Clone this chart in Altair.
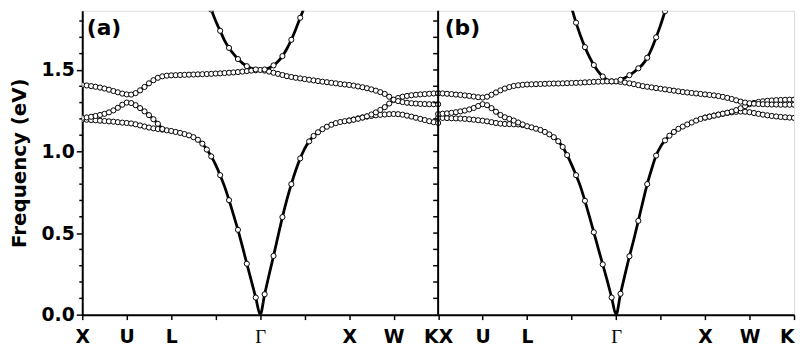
import altair as alt
import pandas as pd

STEP = 0.1

# ---------------- panel (a) : band values read at x = start, start+0.1, ...
a_band1 = [1.196, 1.195, 1.193, 1.191, 1.189, 1.187, 1.185, 1.183, 1.180, 1.177,
           1.175, 1.172, 1.167, 1.160, 1.153, 1.147, 1.142, 1.138, 1.134, 1.130,
           1.126, 1.120, 1.114, 1.107, 1.099, 1.088, 1.072, 1.048, 1.012, 0.970,
           0.918, 0.855, 0.785, 0.702, 0.612, 0.520, 0.418, 0.312, 0.208, 0.105,
           0.000, 0.125, 0.245, 0.360, 0.480, 0.598, 0.705, 0.800, 0.885, 0.958,
           1.018, 1.062, 1.095, 1.118, 1.137, 1.152, 1.164, 1.174, 1.181, 1.186,
           1.190, 1.196, 1.203, 1.209, 1.214, 1.218, 1.222, 1.225, 1.227, 1.229,
           1.230, 1.229, 1.226, 1.220, 1.214, 1.207, 1.200, 1.193, 1.186, 1.180,
           1.175]
a_band2_xul = [1.206, 1.209, 1.213, 1.218, 1.224, 1.231, 1.240, 1.252, 1.268, 1.287,
               1.300, 1.297, 1.284, 1.266, 1.246, 1.223, 1.198, 1.170, 1.138]
a_band2_xwk = [1.190, 1.195, 1.201, 1.208, 1.216, 1.227, 1.240, 1.255, 1.272, 1.294,
               1.315, 1.328, 1.336, 1.341, 1.345, 1.348, 1.350, 1.352, 1.354, 1.356,
               1.357]
a_band3 = [1.408, 1.405, 1.401, 1.397, 1.392, 1.386, 1.379, 1.371, 1.363, 1.355,
           1.350, 1.349, 1.358, 1.375, 1.396, 1.418, 1.437, 1.452, 1.461, 1.465,
           1.467, 1.468, 1.469, 1.470, 1.471, 1.472, 1.473, 1.474, 1.475, 1.476,
           1.478, 1.479, 1.481, 1.483, 1.485, 1.487, 1.490, 1.493, 1.496, 1.498,
           1.500, 1.496, 1.490, 1.483, 1.476, 1.469, 1.462, 1.457, 1.452, 1.448,
           1.444, 1.440, 1.436, 1.432, 1.428, 1.425, 1.421, 1.418, 1.414, 1.411,
           1.408, 1.404, 1.399, 1.394, 1.388, 1.381, 1.373, 1.364, 1.353, 1.336,
           1.318, 1.309, 1.303, 1.299, 1.296, 1.294, 1.292, 1.291, 1.290, 1.290,
           1.290]
a_light = [1.950, 1.870, 1.800, 1.740, 1.680, 1.635, 1.598, 1.567, 1.542, 1.523,
           1.510, 1.503, 1.500, 1.503, 1.512, 1.528, 1.552, 1.585, 1.630, 1.685,
           1.750, 1.820, 1.890, 1.960]

# ---------------- panel (b)
b_band1 = [1.206, 1.206, 1.205, 1.204, 1.203, 1.202, 1.200, 1.198, 1.195, 1.192,
           1.189, 1.185, 1.180, 1.175, 1.171, 1.169, 1.168, 1.167, 1.166, 1.162,
           1.155, 1.148, 1.140, 1.132, 1.120, 1.105, 1.088, 1.063, 1.028, 0.978,
           0.920, 0.855, 0.785, 0.698, 0.602, 0.505, 0.405, 0.308, 0.210, 0.105,
           0.000, 0.128, 0.245, 0.358, 0.462, 0.575, 0.690, 0.800, 0.893, 0.975,
           1.030, 1.068, 1.097, 1.120, 1.139, 1.153, 1.166, 1.178, 1.190, 1.200,
           1.208, 1.214, 1.220, 1.226, 1.231, 1.236, 1.240, 1.243, 1.245, 1.244,
           1.241, 1.236, 1.231, 1.226, 1.222, 1.218, 1.215, 1.212, 1.210, 1.208,
           1.206]
b_band2_xul = [1.230, 1.232, 1.234, 1.237, 1.241, 1.246, 1.251, 1.258, 1.267, 1.279,
               1.290, 1.284, 1.266, 1.244, 1.224, 1.210, 1.200, 1.190, 1.178, 1.166]
b_band2_xwk = [1.208, 1.214, 1.220, 1.226, 1.232, 1.238, 1.245, 1.254, 1.265, 1.278,
               1.290, 1.298, 1.304, 1.308, 1.311, 1.313, 1.315, 1.316, 1.317, 1.318,
               1.318]
b_band3 = [1.357, 1.356, 1.354, 1.352, 1.349, 1.347, 1.344, 1.341, 1.337, 1.333,
           1.331, 1.336, 1.348, 1.362, 1.375, 1.386, 1.395, 1.402, 1.406, 1.409,
           1.411, 1.412, 1.413, 1.414, 1.415, 1.416, 1.417, 1.417, 1.418, 1.419,
           1.420, 1.421, 1.422, 1.424, 1.425, 1.427, 1.428, 1.429, 1.430, 1.430,
           1.430, 1.427, 1.423, 1.418, 1.413, 1.407, 1.401, 1.397, 1.393, 1.389,
           1.385, 1.381, 1.377, 1.373, 1.369, 1.365, 1.362, 1.359, 1.356, 1.353,
           1.350, 1.347, 1.344, 1.340, 1.335, 1.329, 1.322, 1.314, 1.306, 1.300,
           1.296, 1.293, 1.291, 1.290, 1.289, 1.288, 1.288, 1.287, 1.287, 1.287,
           1.287]
b_light = [1.950, 1.880, 1.790, 1.710, 1.640, 1.580, 1.530, 1.490, 1.460, 1.440,
           1.430, 1.432, 1.440, 1.452, 1.468, 1.487, 1.510, 1.535, 1.575, 1.630,
           1.700, 1.775, 1.860, 1.950]

# (panel, name, start x, values, range with sparser markers)
series_list = [
    ("a", "a1", 0.0, a_band1, (2.95, 5.05)),
    ("a", "a2u", 0.0, a_band2_xul, None),
    ("a", "a2w", 6.0, a_band2_xwk, None),
    ("a", "a3", 0.0, a_band3, None),
    ("a", "a4", 2.8, a_light, (0.0, 8.0)),
    ("b", "b1", 0.0, b_band1, (2.95, 5.05)),
    ("b", "b2u", 0.0, b_band2_xul, None),
    ("b", "b2w", 6.0, b_band2_xwk, None),
    ("b", "b3", 0.0, b_band3, None),
    ("b", "b4", 2.9, b_light, (0.0, 8.0)),
]

tick_labels = ["X", "U", "L", "", "\u0393", "", "X", "W", "KX",
               "U", "L", "", "\u0393", "", "X", "W", "K"]
y_major = [0.0, 0.5, 1.0, 1.5]
y_minor = [0.1, 0.2, 0.3, 0.4, 0.6, 0.7, 0.8, 0.9, 1.1, 1.2, 1.3, 1.4, 1.6, 1.7, 1.8]
y_all = [0.1, 0.2, 0.3, 0.4, 0.5, 0.6, 0.7, 0.8, 0.9, 1.0, 1.1, 1.2, 1.3, 1.4,
         1.5, 1.6, 1.7, 1.8]
panel_labels = ["(a)", "(b)"]

rows = []
for panel, name, start, ys, sparse in series_list:
    off = 0 if panel == "a" else 8
    for i, y in enumerate(ys):
        xl = round(start + i * STEP, 2)
        tenth = int(round(xl * 10))
        show = True
        if sparse is not None and sparse[0] <= xl <= sparse[1] and tenth % 2 == 0:
            show = False
        rows.append({"x": xl + off, "y": y, "s": name, "show": show})
df = pd.DataFrame(rows)

YMAX = 1.863
FONT = "DejaVu Sans"

xscale = alt.Scale(domain=[0, 16], nice=False, zero=False)
yscale = alt.Scale(domain=[0, YMAX], nice=False, zero=False)

label_expr = "[" + ",".join("'" + t + "'" for t in tick_labels) + "][round(datum.value)]"
gamma_test = "datum.value == 4 || datum.value == 12"

x_axis = alt.Axis(
    values=list(range(17)), labelExpr=label_expr, title=None, grid=False,
    tickSize=5, tickWidth=1.5, tickColor="black", domainColor="black", domainWidth=2,
    labelFontSize=19, labelPadding=8, labelColor="black",
    labelFont={"condition": {"test": gamma_test, "value": "Liberation Serif"},
               "value": FONT},
    labelFontWeight={"condition": {"test": gamma_test, "value": "normal"},
                     "value": "bold"},
    labelAlign={"condition": {"test": "datum.value == 16", "value": "right"},
                "value": "center"},
    labelOverlap=False, labelFlush=False,
)
y_axis = alt.Axis(
    values=y_major, format=".1f", title="Frequency (eV)", grid=False,
    tickSize=6, tickWidth=1.5, tickColor="black", domainColor="black", domainWidth=2,
    labelFont=FONT, labelFontWeight="bold", labelFontSize=19, labelPadding=2,
    labelColor="black",
    titleFont=FONT, titleFontWeight="bold", titleFontSize=20, titleColor="black",
    titlePadding=12,
)

base = alt.Chart(df)
lines = base.mark_line(color="black", strokeWidth=2.8, interpolate="monotone",
                       clip=True).encode(
    x=alt.X("x:Q", scale=xscale, axis=x_axis),
    y=alt.Y("y:Q", scale=yscale, axis=y_axis),
    detail="s:N",
)
points = base.transform_filter("datum.show").mark_point(
    shape="circle", filled=True, fill="white", stroke="black", strokeWidth=1,
    size=27, opacity=1, clip=True,
).encode(x=alt.X("x:Q", scale=xscale), y=alt.Y("y:Q", scale=yscale))

divider = alt.Chart(pd.DataFrame({"x": [8]})).mark_rule(
    color="black", strokeWidth=2).encode(x=alt.X("x:Q", scale=xscale))

minor_a = alt.Chart(pd.DataFrame({"y": y_minor, "x": [0] * len(y_minor)})).mark_rule(
    color="black", strokeWidth=1.5, xOffset=-3).encode(
    x=alt.X("x:Q", scale=xscale), x2="x", y=alt.Y("y:Q", scale=yscale))
ticks_b = alt.Chart(pd.DataFrame({"y": y_all, "x": [8] * len(y_all)})).mark_rule(
    color="black", strokeWidth=1.5, xOffset=-5).encode(
    x=alt.X("x:Q", scale=xscale), x2="x", y=alt.Y("y:Q", scale=yscale))

lab_a = alt.Chart(pd.DataFrame({"t": [panel_labels[0]]})).mark_text(
    font=FONT, fontWeight="bold", fontSize=22, color="black", baseline="alphabetic",
    align="center").encode(text="t:N", x=alt.value(22), y=alt.value(25))
lab_b = alt.Chart(pd.DataFrame({"t": [panel_labels[1]]})).mark_text(
    font=FONT, fontWeight="bold", fontSize=22, color="black", baseline="alphabetic",
    align="center").encode(text="t:N", x=alt.value(384), y=alt.value(25))

chart = alt.layer(lines, points, divider, minor_a, ticks_b, lab_a, lab_b).properties(
    width=719, height=307,
    autosize=alt.AutoSizeParams(type="none"),
    padding={"left": 75, "top": 1, "right": 2, "bottom": 40},
).configure_view(stroke="black", strokeWidth=2).configure(background="white")

chart.save("out.html", embed_options={"renderer": "svg", "actions": False})
